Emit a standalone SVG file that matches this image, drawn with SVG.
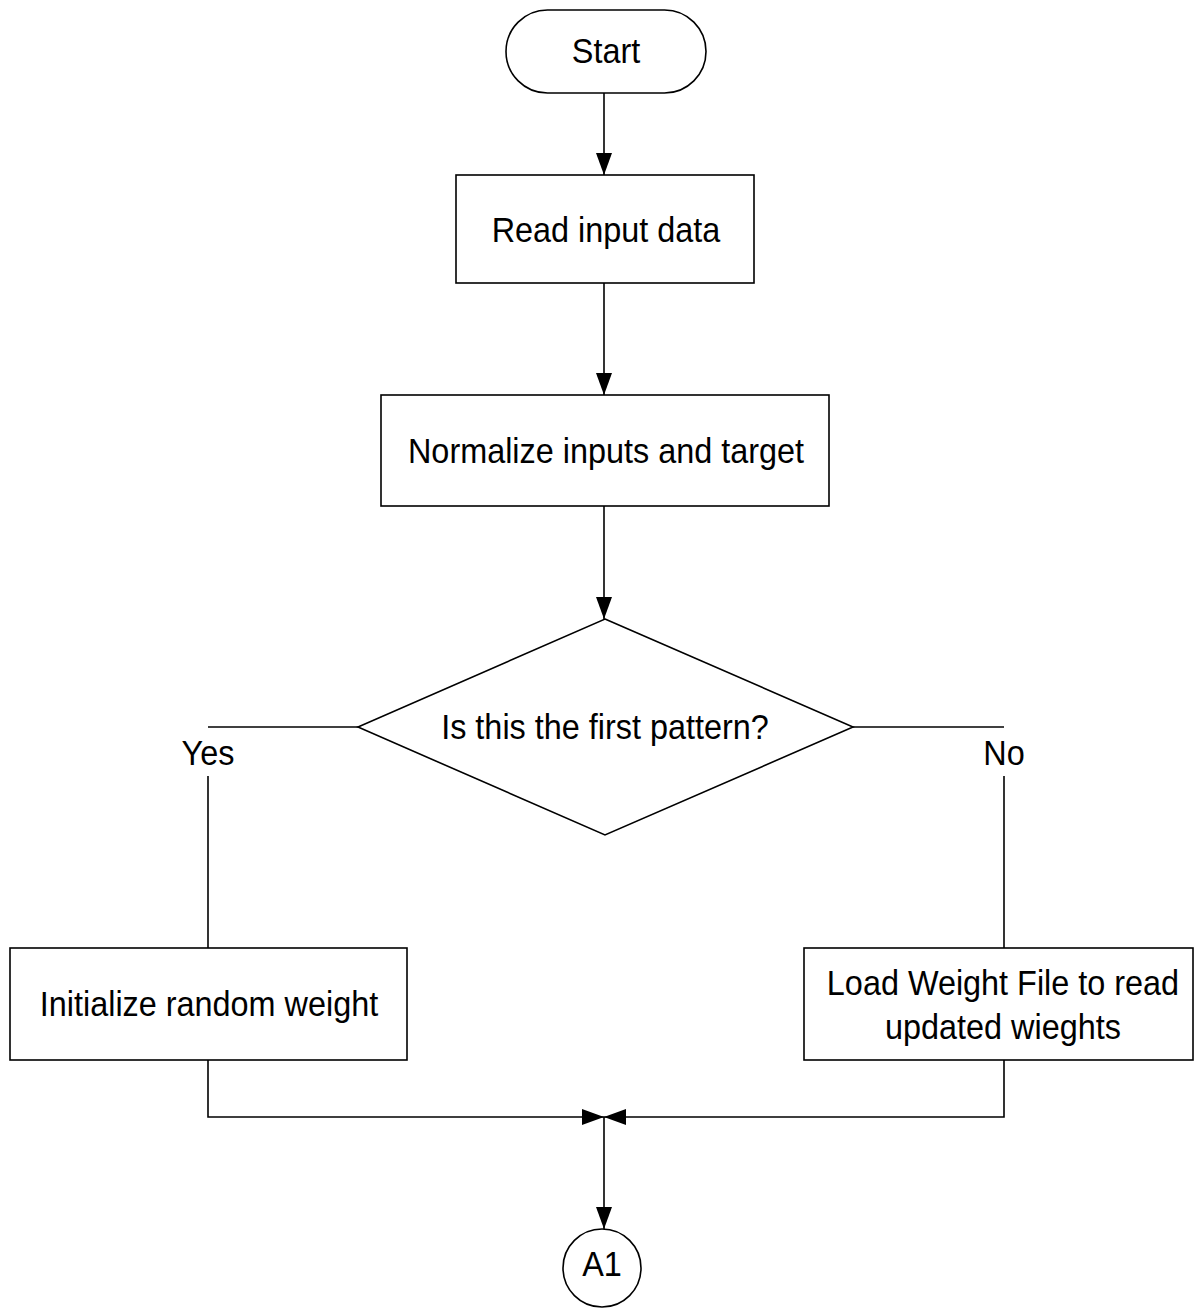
<svg xmlns="http://www.w3.org/2000/svg" width="1194" height="1309" viewBox="0 0 1194 1309">
  <style>
    .shape { fill: #ffffff; stroke: #000000; stroke-width: 1.6; }
    .line { fill: none; stroke: #000000; stroke-width: 1.6; }
    .label { font-family: "Liberation Sans", Arial, sans-serif; font-size: 36px; fill: #000000; text-anchor: middle; dominant-baseline: central; }
  </style>
  <defs>
    <marker id="arrow" viewBox="0 0 22 16" refX="22" refY="8" markerWidth="22" markerHeight="16" markerUnits="userSpaceOnUse" orient="auto">
      <path d="M0,0 L22,8 L0,16 Z" fill="#000000"/>
    </marker>
  </defs>
  <rect width="1194" height="1309" fill="#ffffff"/>

  <g id="connectors">
    <line class="line" x1="604" y1="93" x2="604" y2="175" marker-end="url(#arrow)"/>
    <line class="line" x1="604" y1="283" x2="604" y2="395" marker-end="url(#arrow)"/>
    <line class="line" x1="604" y1="506" x2="604" y2="619" marker-end="url(#arrow)"/>
    <polyline class="line" points="358,727 208,727"/>
    <line class="line" x1="208" y1="776" x2="208" y2="948"/>
    <polyline class="line" points="853,727 1004,727"/>
    <line class="line" x1="1004" y1="776" x2="1004" y2="948"/>
    <polyline class="line" points="208,1060 208,1117 604,1117" marker-end="url(#arrow)"/>
    <polyline class="line" points="1004,1060 1004,1117 604,1117" marker-end="url(#arrow)"/>
    <line class="line" x1="604" y1="1117" x2="604" y2="1229" marker-end="url(#arrow)"/>
    <text class="label" transform="translate(208,752) scale(0.9,1)">Yes</text>
    <text class="label" transform="translate(1004,752) scale(0.9,1)">No</text>
  </g>

  <g id="start">
    <rect class="shape" x="506" y="10" width="200" height="83" rx="41.5" ry="41.5"/>
    <text class="label" transform="translate(606,50) scale(0.9,1)">Start</text>
  </g>

  <g id="read-input">
    <rect class="shape" x="456" y="175" width="298" height="108"/>
    <text class="label" transform="translate(606,229) scale(0.9,1)">Read input data</text>
  </g>

  <g id="normalize">
    <rect class="shape" x="381" y="395" width="448" height="111"/>
    <text class="label" transform="translate(606,450) scale(0.9,1)">Normalize inputs and target</text>
  </g>

  <g id="first-pattern">
    <polygon class="shape" points="605,619 853,727 605,835 358,727"/>
    <text class="label" transform="translate(605,726) scale(0.9,1)">Is this the first pattern?</text>
  </g>

  <g id="init-weight">
    <rect class="shape" x="10" y="948" width="397" height="112"/>
    <text class="label" transform="translate(209,1003) scale(0.9,1)">Initialize random weight</text>
  </g>

  <g id="load-weight">
    <rect class="shape" x="804" y="948" width="389" height="112"/>
    <text class="label" transform="translate(1003,982) scale(0.9,1)">Load Weight File to read</text>
    <text class="label" transform="translate(1003,1026) scale(0.9,1)">updated wieghts</text>
  </g>

  <g id="connector-a1">
    <circle class="shape" cx="602" cy="1268" r="39"/>
    <text class="label" transform="translate(602,1263) scale(0.9,1)">A1</text>
  </g>
</svg>
